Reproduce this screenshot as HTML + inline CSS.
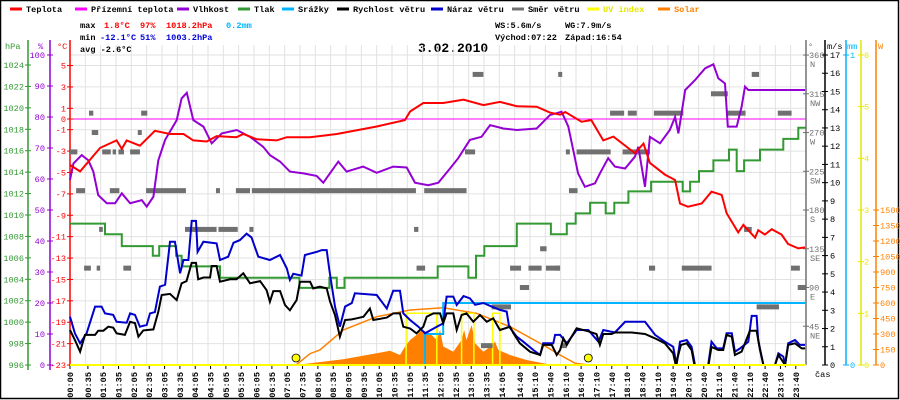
<!DOCTYPE html>
<html><head><meta charset="utf-8"><style>
html,body{margin:0;padding:0;background:#fff;}
svg{display:block;font-family:"Liberation Mono",monospace;}
</style></head><body>
<svg id="chart" width="900" height="400" viewBox="0 0 900 400" xmlns="http://www.w3.org/2000/svg">
<rect x="0.5" y="0.5" width="898" height="398" fill="#fff" stroke="#000" stroke-width="1.5"/>
<g id="legend"></g>
<g font-size="8.6" font-weight="bold">
<text x="80" y="28" fill="#000">max</text>
<text x="104" y="28" fill="#f00">1.8°C</text>
<text x="140" y="28" fill="#f00">97%</text>
<text x="166" y="28" fill="#f00">1018.2hPa</text>
<text x="226" y="28" fill="#00b4ff">0.2mm</text>
<text x="80" y="40" fill="#000">min</text>
<text x="100" y="40" fill="#0000dd">-12.1°C</text>
<text x="140" y="40" fill="#0000dd">51%</text>
<text x="166" y="40" fill="#0000dd">1003.2hPa</text>
<text x="80" y="52" fill="#000">avg -2.6°C</text>
<text x="495" y="28" fill="#000">WS:5.6m/s</text>
<text x="565" y="28" fill="#000">WG:7.9m/s</text>
<text x="495" y="40" fill="#000">Východ:07:22</text>
<text x="565" y="40" fill="#000">Západ:16:54</text>
</g>
<text x="418" y="52" font-size="13" font-weight="bold" fill="#000">3.02.2010</text>
<g id="grid"></g>
<g id="axes"></g>
<g id="series"></g>
</svg>
<script>
// ---- data ----
const tempTimes=[0,0.33,0.98,1.52,1.69,1.85,2.28,2.77,3.26,3.70,4.02,4.46,4.78,5.43,5.65,6.09,6.74,7.07,7.83,8.70,10.0,10.92,11.09,11.52,12.17,12.83,13.48,14.02,14.57,15.22,15.65,15.98,16.15,16.68,17.0,17.39,17.72,18.42,18.7,18.91,19.4,19.73,19.89,20.15,20.6,20.92,21.25,21.41,21.79,21.96,22.34,22.44,22.66,22.88,23.2,23.42,23.75,23.97];
const tempVals=[-4.3,-4.9,-2.7,-2.0,-2.8,-2.0,-2.5,-1.1,-1.4,-1.4,-2.0,-2.1,-1.6,-1.7,-1.4,-1.9,-2.0,-1.7,-1.7,-1.4,-0.7,-0.1,0.7,1.5,1.5,1.8,1.3,1.6,1.2,1.15,0.6,0.4,0.65,-0.25,-0.1,-2.0,-1.65,-3.2,-2.3,-4.1,-5.2,-5.7,-7.9,-8.2,-7.9,-6.8,-7.1,-8.8,-10.6,-9.9,-11.1,-10.4,-10.8,-10.3,-10.8,-11.7,-12.1,-12.0];
const humTimes=[0,0.11,0.38,0.60,0.76,0.92,1.20,1.47,1.69,1.96,2.34,2.50,2.72,2.88,3.10,3.48,3.64,3.81,4.02,4.35,4.62,4.95,5.44,5.87,6.30,6.52,6.85,7.17,7.61,8.04,8.26,8.75,9.02,9.56,10.0,10.54,10.98,11.25,11.68,12.01,12.39,12.66,13.04,13.42,13.70,14.13,14.57,15.22,15.65,16.03,16.25,16.41,16.57,16.79,17.12,17.28,17.55,17.77,18.10,18.42,18.53,18.75,18.91,19.24,19.56,19.73,19.84,20.06,20.38,20.71,20.98,21.14,21.36,21.45,21.74,21.90,22.01,22.12,23.97];
const humVals=[59.7,65,67.7,66,62.4,54.8,52.2,52.2,55.4,52.2,53.2,51.1,54.3,66,72.6,79,86,87.8,79,76.9,71.5,74.7,75.8,73.6,70.4,67.7,65.6,62.4,61.8,61,58.8,65.6,62.4,64,62,64,63.7,58.8,58,58.8,63.4,66.7,72.6,73.6,77.4,76.3,75.8,76.3,80.6,81.7,76.9,69.4,61.8,57.5,58.6,61.8,66.7,64,63.4,67.2,70.4,57.5,73.6,71.5,75.8,80,74.7,88.7,91.9,95.7,97,92.5,90.8,76.9,76.9,83.3,89.8,88.7,88.7];
const pressTimes=[0,1.14,1.69,2.70,2.91,3.46,3.64,4.89,7.48,8.46,8.70,8.95,11.99,12.99,13.24,13.51,14.57,15.68,16.2,16.49,16.96,17.47,17.75,18.21,18.95,19.98,20.22,20.51,20.98,21.49,21.74,21.98,22.5,23.26,23.75];
const pressVals=[1009.2,1008.2,1007.1,1006.2,1007.1,1006.2,1005.2,1004.15,1003.2,1004.15,1003.2,1004.15,1005.2,1004.15,1006.2,1007.1,1009.2,1008.2,1009.2,1010.15,1011.15,1010.15,1011.15,1012.2,1013.1,1012.2,1013.1,1014.1,1015.1,1016.1,1014.1,1015.1,1016.1,1017.1,1018.15];
const gustTimes=[0,0.16,0.33,0.54,0.82,1.03,1.14,1.41,1.52,1.85,1.96,2.12,2.28,2.5,2.61,2.77,2.93,3.1,3.26,3.42,3.59,3.7,3.86,3.97,4.11,4.16,4.35,4.78,4.89,5.16,5.33,5.54,5.76,5.92,6.14,6.52,6.85,7.07,7.17,7.28,7.55,7.66,8.04,8.21,8.37,8.46,8.64,8.80,8.97,9.19,9.29,10.0,10.33,10.54,10.76,10.87,11.09,11.36,11.58,11.96,12.17,12.28,12.5,12.61,12.83,13.04,13.21,13.48,13.75,14.02,14.24,14.32,14.57,14.78,15.11,15.33,15.43,15.76,15.82,15.98,16.2,16.52,16.9,17.23,17.39,17.77,18.1,18.75,19.08,19.4,19.67,19.78,19.89,20.11,20.27,20.38,20.81,20.92,21.09,21.3,21.41,21.58,21.68,21.85,22.12,22.23,22.39,22.44,22.61,22.99,23.1,23.26,23.32,23.42,23.64,23.8,23.97];
const gustVals=[2.65,1.74,1.19,1.74,3.2,3.2,2.83,2.75,2.37,2.32,2.83,2.75,2.1,2.2,2.83,2.9,4.3,4.4,6.76,6.76,5.03,5.76,5.76,7.9,7.9,6.2,6.76,6.67,5.76,5.94,6.7,6.85,7.2,7.0,5.94,5.76,6.03,5.3,4.66,5.0,4.9,6.03,6.2,6.3,6.3,5.2,3.2,2.1,3.2,3.4,3.93,3.84,3.1,4.07,4.07,2.83,2.47,2.1,1.74,2.1,2.28,3.75,3.75,3.29,3.78,3.66,3.3,3.4,3.2,3.02,2.93,2.1,1.55,1.28,0.82,0.55,1.19,1.19,1.65,1.65,1.19,1.92,1.92,1.28,1.92,1.78,2.37,2.37,1.65,1.28,1.0,0,1.28,1.37,1.0,0,0,1.28,0.91,0.91,1.74,1.74,0.73,0.91,1.28,2.69,2.69,1.37,0,0,0.64,0.46,0,1.19,1.37,1.1,1.1];
const windTimes=[0,0.16,0.33,0.49,0.82,0.92,1.09,1.25,1.41,1.52,1.79,1.96,2.12,2.23,2.39,2.72,2.88,2.99,3.26,3.48,3.64,3.80,3.97,4.11,4.18,4.35,4.57,4.62,4.78,4.89,5.22,5.43,5.65,5.87,6.2,6.41,6.52,6.63,6.85,7.01,7.17,7.39,7.5,7.83,7.93,8.15,8.37,8.48,8.64,8.80,8.97,9.19,9.35,9.57,9.78,9.89,10.33,10.54,10.76,10.87,11.09,11.30,11.52,11.63,11.85,12.07,12.17,12.28,12.5,12.61,12.77,12.93,13.15,13.37,13.59,13.8,14.02,14.35,14.46,14.67,15.0,15.33,15.43,15.71,15.87,15.98,16.09,16.2,16.52,16.9,17.17,17.28,17.39,17.66,17.77,18.32,18.75,19.08,19.4,19.67,19.75,19.92,20.11,20.27,20.36,20.82,20.92,21.14,21.3,21.41,21.58,21.68,21.9,22.17,22.39,22.5,22.61,22.99,23.1,23.32,23.42,23.64,23.86,23.97];
const windVals=[1.92,1.37,0.73,1.65,1.65,1.88,1.88,2.1,2.05,1.74,1.65,2.37,2.3,1.55,1.9,1.95,2.92,3.84,3.9,3.56,4.48,4.6,5.6,5.6,4.7,4.8,4.8,5.43,5.43,4.57,4.7,4.7,5.03,4.48,4.6,4.1,3.47,4.05,4.05,3.29,3.0,3.56,4.57,4.57,4.2,4.3,4.2,3.47,2.74,1.55,2.47,2.5,2.56,2.65,3.1,2.47,2.6,2.83,2.83,2.1,2.0,1.74,2.1,2.65,2.83,2.83,2.3,2.83,2.83,1.92,2.74,2.83,2.37,2.74,2.37,2.56,1.92,2.1,1.74,1.19,0.73,0.55,1.1,1.1,0.55,0.82,1.46,1.1,2.01,1.85,1.7,1.1,1.7,1.7,1.78,1.78,1.7,1.46,1.19,0.64,0,1.1,1.19,0.82,0,0,1.0,0.82,0.82,1.65,1.55,0.55,0.73,1.88,1.88,0.82,0,0,0.55,0,1.1,1.19,0.91,0.91];
const dirStart=[0.62,2.32,0.71,2.21,0,1.05,1.39,1.58,1.96,0.2,1.3,2.48,4.76,5.41,5.93,0.95,3.75,4.84,5.85,0.46,0.87,1.74,7.83,11.55,13.13,12.88,11.22,11.3,14.35,14.95,15.52,14.67,13.75,13.4,15.33,15.92,22.23,20.9,17.61,18.19,19.04,21.39,23.08,16.17,16.52,18.02,16.27,21.98,15.82,18.88,19.95,23.51,23.73,22.39,16.01];
const dirEnd=[0.76,2.52,0.92,2.34,0.24,1.33,1.5,1.76,2.28,0.49,1.61,3.78,4.89,5.87,8.15,1.07,4.78,5.47,5.98,0.68,0.98,1.99,11.28,12.93,13.48,13.21,11.36,11.58,14.71,15.38,15.98,14.97,14.38,13.78,15.54,16.05,22.47,21.45,18.07,18.48,20.0,22.03,23.53,16.3,17.63,18.91,16.55,22.23,15.98,19.08,20.92,23.8,24.0,23.12,16.2];
const dirDeg=[292.5,292.5,270,270,247.5,247.5,247.5,247.5,247.5,202.5,202.5,202.5,202.5,202.5,202.5,157.5,157.5,157.5,157.5,112.5,112.5,112.5,202.5,202.5,337.5,247.5,157.5,112.5,112.5,112.5,112.5,90,67.5,22.5,135,337.5,337.5,315,292.5,292.5,292.5,292.5,292.5,247.5,247.5,247.5,202.5,157.5,112.5,112.5,112.5,112.5,90,67.5,22.5];
const rainTimes=[0,11.58,12.17];
const rainVals=[0,0.1,0.2];
const uvTimes=[0,10.96,11.96,12.77,13.17,13.78,14.02];
const uvVals=[0,1,0,1,0,1,0];
const solarTimes=[7.37,7.83,8.91,10.0,10.43,10.76,10.92,11.09,11.3,11.47,11.74,11.96,12.07,12.17,12.5,12.77,12.85,12.93,13.04,13.1,13.21,13.48,13.7,13.86,13.97,14.35,14.89,15.43,15.76];
const solarVals=[0,16,55,113,138,97,177,242,290,339,306,242,339,180,129,242,339,242,339,387,210,129,177,226,145,97,48,16,0];
const clearTimes=[7.37,7.83,8.15,8.91,10.0,11.09,12.17,13.26,14.35,15.43,15.98,16.47,16.9];
const clearVals=[0,110,145,339,467,532,555,500,371,194,97,16,0];
const sunTimes=[7.37,16.9];
const hpaTicks=[996,998,1000,1002,1004,1006,1008,1010,1012,1014,1016,1018,1020,1022,1024];
const humTicks=[0,10,20,30,40,50,60,70,80,90,100];
const tempTicks=[5,3,1,0,-1,-3,-5,-7,-9,-11,-13,-15,-17,-19,-21,-23];
const dirTicks=[45,90,135,180,225,270,315,360];
const dirNames=["NE","E","SE","S","SW","W","NW","N"];
const msTicks=[0,1,2,3,4,5,6,7,8,9,10,11,12,13,14,15,16,17];
const uvTicks=[0,1,2,3,4,5,6];
const wTicks=[0,150,300,450,600,750,900,1050,1200,1350,1500];
const timeLabels=["00:00","00:35","01:05","01:35","02:05","02:35","03:05","03:35","04:05","04:35","05:05","05:35","06:05","06:35","07:05","07:35","08:05","08:35","09:05","09:35","10:05","10:35","11:05","11:35","12:05","12:35","13:05","13:35","14:05","14:40","15:10","15:40","16:10","16:40","17:10","17:40","18:10","18:40","19:10","19:40","20:10","20:40","21:10","21:40","22:10","22:40","23:10","23:40"];
const legendNames=["Teplota","Přízemní teplota","Vlhkost","Tlak","Srážky","Rychlost větru","Náraz větru","Směr větru","UV index","Solar"];
const legendColors=["#ff0000","#ff00ff","#9400d3","#339933","#00b4ff","#000000","#0000cc","#707070","#ffff00","#ff8000"];
const legendX=[8,73,175,236,280,335,429,510,585,656];

// ---- scales ----
const X0=70,X1=806,YB=365;
const xs=h=>X0+h*(X1-X0)/24;
const yT=t=>119-t*10.696;
const yP=p=>YB-(p-996)*10.714;
const yH=v=>YB-v*3.1;
const yV=v=>YB-v*18.235;
const yD=d=>YB-d*0.861;
const yR=v=>YB-v*310;
const yU=v=>YB-v*51.67;
const yW=v=>YB-v*0.10333;
const NS="http://www.w3.org/2000/svg";
function mk(tag,attrs,parent){const e=document.createElementNS(NS,tag);for(const k in attrs)e.setAttribute(k,attrs[k]);parent.appendChild(e);return e;}
const G=document.getElementById('grid'),A=document.getElementById('axes'),S=document.getElementById('series'),L=document.getElementById('legend');

// legend
legendNames.forEach((n,i)=>{
  const ln=mk('line',{x1:legendX[i]+2,x2:legendX[i]+14,y1:9,y2:9,stroke:legendColors[i],'stroke-width':3},L);
  
  
  const t=mk('text',{x:legendX[i]+18,y:12,'font-size':8.6,'font-weight':'bold',fill:i===8?'#e6e600':(i===9?'#ff8000':'#000')},L);
  t.textContent=n;
  
  
});

// grid
for(let k=0;k<=48;k++){const x=xs(k/2);const l=mk('line',{x1:x,x2:x,y1:45,y2:YB,stroke:'#e2e2e2','stroke-width':1},G);

}
const hg=[55].concat(tempTicks.filter(t=>t%2!==0).map(yT));
hg.forEach(y=>{const l=mk('line',{x1:X0,x2:X1,y1:y,y2:y,stroke:'#e2e2e2','stroke-width':1},G);

});
const zl=mk('line',{x1:X0,x2:X1,y1:yT(0),y2:yT(0),stroke:'#ff00ff','stroke-width':1},G);



// axes helper
function axis(x,y1,y2,color,ticks,yf,lx,anchor,name){
  const a=mk('line',{x1:x,x2:x,y1:y1,y2:y2,stroke:color,'stroke-width':1.5},A);
  
  
  ticks.forEach(v=>{const y=yf(v);
    mk('line',{x1:x-3,x2:x+3,y1:y,y2:y,stroke:color,'stroke-width':1},A);
    const t=mk('text',{x:lx,y:y+3,'font-size':8.6,fill:color,'text-anchor':anchor},A);
    t.textContent=v;
    
    
  });
}
axis(28,40,370,'#339933',hpaTicks,yP,24,'end','hpa');
axis(50,40,370,'#9400d3',humTicks,yH,45,'end','humidity');
axis(70,40,YB,'#ff0000',tempTicks,yT,66,'end','temp');
axis(806,40,YB,'#707070',dirTicks,yD,809,'start','direction');
dirTicks.forEach((d,i)=>{const t=mk('text',{x:810,y:yD(d)+12,'font-size':8.6,fill:'#707070'},A);t.textContent=dirNames[i];

});
axis(825,40,YB,'#000000',msTicks,yV,830,'start','wind-speed');
axis(846,40,YB,'#00b4ff',[0,1],yR,850,'start','rain');
axis(861,40,YB,'#e6e600',uvTicks,yU,864,'start','uv');
axis(876,40,YB,'#ff8000',wTicks,yW,880,'start','solar');
[['hPa',5,'#339933'],['%',38,'#9400d3'],['°C',57,'#ff0000'],['°',808,'#707070'],['m/s',827,'#000'],['mm',847,'#00b4ff'],['W',878,'#ff8000']].forEach(u=>{
  const t=mk('text',{x:u[1],y:49,'font-size':8.6,fill:u[2]},A);t.textContent=u[0];
  
  
});
// time axis
const ba=mk('line',{x1:X0,x2:X1,y1:YB,y2:YB,stroke:'#000','stroke-width':1.5},A);


timeLabels.forEach(lbl=>{const p=lbl.split(':');const h=+p[0]+(+p[1])/60;const x=xs(h);
  mk('line',{x1:x,x2:x,y1:YB,y2:YB+4,stroke:'#000'},A);
  const t=mk('text',{x:x+3,y:372,'font-size':8.6,'font-weight':'bold',fill:'#000','text-anchor':'end',transform:`rotate(-90 ${x+3} 372)`},A);
  t.textContent=lbl;
  
  
});
const cas=mk('text',{x:815,y:377,'font-size':8.6,fill:'#000'},A);cas.textContent='čas';



// series helpers
function linePath(ts,vs,yf){return ts.map((t,i)=>(i?'L':'M')+xs(t).toFixed(1)+' '+yf(vs[i]).toFixed(1)).join(' ');}
function stepPath(ts,vs,yf,end){let d='';ts.forEach((t,i)=>{const x=xs(t),y=yf(vs[i]);if(i===0)d+='M'+x+' '+y;else d+=' H'+x.toFixed(1)+' V'+y.toFixed(1);});d+=' H'+xs(end).toFixed(1);return d;}

// solar fill
let sd='M'+xs(solarTimes[0])+' '+YB+' '+solarTimes.map((t,i)=>'L'+xs(t).toFixed(1)+' '+yW(solarVals[i]).toFixed(1)).join(' ')+' L'+xs(solarTimes[solarTimes.length-1])+' '+YB+' Z';
const sf=mk('path',{d:sd,fill:'#ff8000',stroke:'none'},S);


const cl=mk('path',{d:linePath(clearTimes,clearVals,yW),fill:'none',stroke:'#ff8000','stroke-width':1.5},S);


// uv
const uv=mk('path',{d:stepPath(uvTimes,uvVals,yU,24),fill:'none',stroke:'#ffff00','stroke-width':1.5},S);


// direction
dirDeg.forEach((d,i)=>{const r=mk('rect',{x:xs(dirStart[i]),y:yD(d)-2.5,width:Math.max(3,xs(dirEnd[i])-xs(dirStart[i])),height:5,fill:'#707070'},S);

});
// pressure
const pr=mk('path',{d:stepPath(pressTimes,pressVals,yP,24),fill:'none',stroke:'#339933','stroke-width':2},S);


// rain
const rn=mk('path',{d:stepPath(rainTimes,rainVals,yR,24),fill:'none',stroke:'#00b4ff','stroke-width':2},S);


// gust & wind
const gu=mk('path',{d:linePath(gustTimes,gustVals,yV),fill:'none',stroke:'#0000cc','stroke-width':2},S);


const wi=mk('path',{d:linePath(windTimes,windVals,yV),fill:'none',stroke:'#000','stroke-width':2},S);


// humidity
const hu=mk('path',{d:linePath(humTimes,humVals,yH),fill:'none',stroke:'#9400d3','stroke-width':2},S);


// temperature
const te=mk('path',{d:linePath(tempTimes,tempVals,yT),fill:'none',stroke:'#ff0000','stroke-width':2},S);


// baseline yellow
const yb=mk('line',{x1:X0,x2:X1,y1:YB,y2:YB,stroke:'#ffff00','stroke-width':2},S);


sunTimes.forEach(t=>{const c=mk('circle',{cx:xs(t),cy:358,r:4,fill:'#ffff00',stroke:'#000','stroke-width':0.8},S);

});
</script>
</body></html>
